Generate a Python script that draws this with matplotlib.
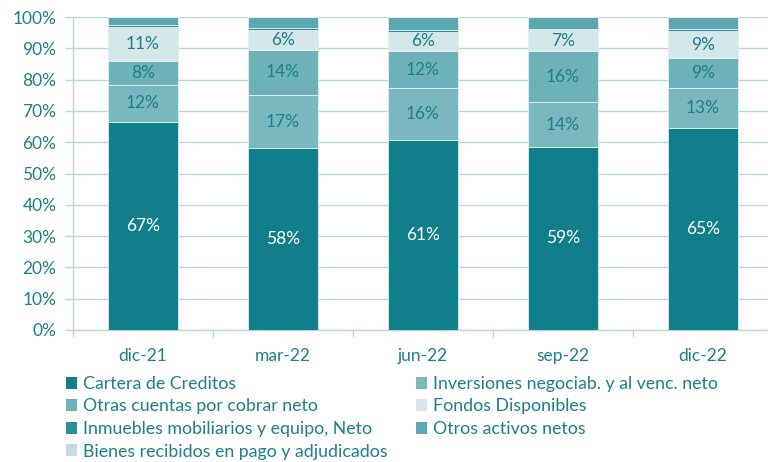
import numpy as np
import matplotlib
matplotlib.use("Agg")
import matplotlib.pyplot as plt
from matplotlib.patches import Patch

plt.rcParams["font.family"] = ["Lato", "DejaVu Sans"]

periodos = ["dic-21", "mar-22", "jun-22", "sep-22", "dic-22"]

cartera = [66.6, 58.0, 60.8, 58.6, 64.6]
inversiones = [11.8, 17.2, 16.4, 14.1, 12.8]
otras_cuentas = [7.6, 14.2, 11.9, 16.4, 9.4]
fondos = [10.8, 6.4, 6.2, 6.6, 8.7]
inmuebles = [0.5, 0.6, 0.5, 0.5, 0.6]
otros_activos = [2.6, 3.5, 4.1, 3.7, 3.8]
bienes = [0.1, 0.1, 0.1, 0.1, 0.1]

series = [
    ("Cartera de Creditos", cartera, "#117f8b"),
    ("Inversiones negociab. y al venc. neto", inversiones, "#7ab8bf"),
    ("Otras cuentas por cobrar neto", otras_cuentas, "#6eb2b9"),
    ("Fondos Disponibles", fondos, "#d4e8eb"),
    ("Inmuebles mobiliarios y equipo, Neto", inmuebles, "#2b8f99"),
    ("Otros activos netos", otros_activos, "#5ca7b0"),
    ("Bienes recibidos en pago y adjudicados", bienes, "#c3dde2"),
]
etiquetadas = 4

texto = "#1d7f8b"
linea = "#b8d8dd"

fig = plt.figure(figsize=(7.68, 4.62), dpi=100)
ax = fig.add_axes([73 / 768, 132 / 462, 700 / 768, 313 / 462])

x = np.arange(len(periodos))
base = np.zeros(len(periodos))
for i, (nombre, vals, color) in enumerate(series):
    vals = np.array(vals)
    ax.bar(x, vals, 0.5, bottom=base, color=color, edgecolor="#e3f0f2",
           linewidth=0.6, zorder=3)
    if i < etiquetadas:
        for xi, b, v in zip(x, base, vals):
            ax.text(xi, b + v / 2, f"{round(v)}%", ha="center", va="center",
                    fontsize=12.5, color="white" if i == 0 else texto, zorder=4)
    base += vals

ax.set_xlim(-0.5, len(periodos) - 0.5)
ax.set_ylim(0, 100)
ax.set_yticks(np.arange(0, 101, 10))
ax.set_yticklabels([f"{v}%" for v in range(0, 101, 10)])
ax.set_xticks(x)
ax.set_xticklabels(periodos)
ax.set_xticks(np.arange(-0.5, len(periodos), 1), minor=True)
ax.tick_params(axis="x", which="major", length=0, pad=13, labelsize=12.5, labelcolor=texto)
ax.tick_params(axis="x", which="minor", length=5, color=linea, width=1)
ax.tick_params(axis="y", length=6, color=linea, width=1, pad=6, labelsize=12.5, labelcolor=texto)
ax.grid(axis="y", color=linea, linewidth=1, zorder=0)
for s in ["top", "right"]:
    ax.spines[s].set_visible(False)
for s in ["left", "bottom"]:
    ax.spines[s].set_color(linea)
    ax.spines[s].set_linewidth(1)

handles = [Patch(facecolor=c, label=n) for n, _, c in series]
orden = [0, 2, 4, 6, 1, 3, 5]
fig.legend([handles[k] for k in orden], [handles[k].get_label() for k in orden],
           ncol=2, frameon=False, loc="upper left", bbox_to_anchor=(57 / 768, 1 - 367 / 462),
           fontsize=12.8, labelcolor=texto, handlelength=0.65, handleheight=0.65,
           handletextpad=0.3, columnspacing=1.6, labelspacing=0.37, borderpad=0)

fig.savefig("out.png", dpi=100)
